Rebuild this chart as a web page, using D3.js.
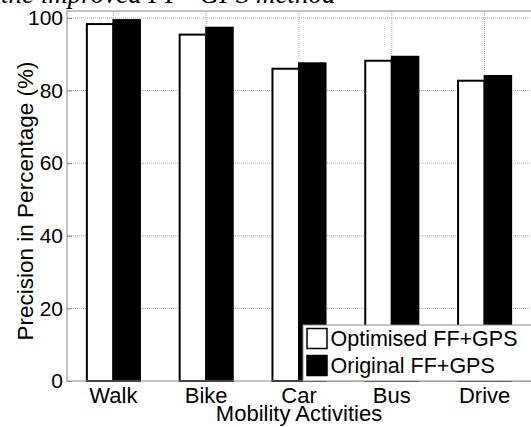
<!DOCTYPE html>
<html lang="en">
<head>
<meta charset="utf-8">
<script src="https://d3js.org/d3.v7.min.js"></script>
<style>
  body { margin: 0; background: #fff; }
  text { font-family: Arial, "Liberation Sans", sans-serif; fill: #000; }
</style>
</head>
<body>
<script>
// data
var activities = ["Walk", "Bike", "Car", "Bus", "Drive"];
var optimised = [98.3, 95.4, 86.0, 88.2, 82.7];
var original = [99.4, 97.3, 87.5, 89.3, 84.0];
var seriesNames = ["Optimised FF+GPS", "Original FF+GPS"];
var yTicks = [0, 20, 40, 60, 80, 100];

var w = 531, h = 427;
var plotL = 67, plotR = 531, plotT = 11, plotB = 381;

var svg = d3.select("body").append("svg")
  .attr("width", w).attr("height", h);

var x = d3.scaleBand().domain(activities).range([plotL, plotR]).padding(0);
var inner = d3.scaleBand().domain([0, 1]).range([0, x.bandwidth() * 0.572]);
var y = d3.scaleLinear().domain([0, 101.9]).range([plotB, plotT]);

// title (cut at top)
svg.append("text")
  .attr("x", 1).attr("y", 3)
  .style("font-family", "'Liberation Serif', 'Times New Roman', serif")
  .style("font-style", "italic")
  .style("font-size", "27px")
  .text("the improved FF+GPS method");

// grid
var grid = svg.append("g");
grid.selectAll("line.h").data(yTicks.filter(function(d) { return d > 0; }))
  .enter().append("line")
  .attr("x1", plotL).attr("x2", plotR)
  .attr("y1", function(d) { return y(d); }).attr("y2", function(d) { return y(d); })
  .attr("stroke", "#aaa").attr("stroke-dasharray", "1,1");
grid.selectAll("line.v").data(activities)
  .enter().append("line")
  .attr("x1", function(d) { return x(d) + x.bandwidth() / 2; })
  .attr("x2", function(d) { return x(d) + x.bandwidth() / 2; })
  .attr("y1", plotT).attr("y2", plotB)
  .attr("stroke", "#aaa").attr("stroke-dasharray", "1,1");

// bars
var groups = svg.selectAll("g.grp").data(activities).enter().append("g")
  .attr("transform", function(d) {
    return "translate(" + (x(d) + x.bandwidth() / 2 - inner.range()[1] / 2) + ",0)";
  });
groups.selectAll("rect").data(function(d, i) { return [optimised[i], original[i]]; })
  .enter().append("rect")
  .attr("x", function(d, j) { return inner(j); })
  .attr("y", function(d) { return y(d); })
  .attr("width", inner.bandwidth())
  .attr("height", function(d) { return plotB - y(d); })
  .attr("fill", function(d, j) { return j === 0 ? "#fff" : "#000"; })
  .attr("stroke", "#000").attr("stroke-width", 2);

// axes box
svg.append("line").attr("x1", plotL).attr("x2", plotR).attr("y1", plotT).attr("y2", plotT)
  .attr("stroke", "#888");
svg.append("line").attr("x1", plotL).attr("x2", plotR).attr("y1", plotB).attr("y2", plotB)
  .attr("stroke", "#888");

var yAxis = d3.axisLeft(y).tickValues(yTicks).tickSize(-5).tickPadding(4);
var ya = svg.append("g").attr("transform", "translate(" + plotL + ",0)").call(yAxis);
ya.attr("font-family", null).attr("font-size", null);
ya.select(".domain").attr("stroke", "#888").attr("d", "M0," + plotT + "V" + plotB);
ya.selectAll(".tick line").attr("stroke", "#888");
ya.selectAll("text").style("font-size", "21px");

var xAxis = d3.axisBottom(x).tickSize(0).tickPadding(6);
var xa = svg.append("g").attr("transform", "translate(0," + plotB + ")").call(xAxis);
xa.attr("font-family", null).attr("font-size", null);
xa.select(".domain").remove();
xa.selectAll("text").style("font-size", "22px");

// axis labels
svg.append("text")
  .attr("transform", "translate(33,201) rotate(-90)")
  .attr("text-anchor", "middle")
  .style("font-size", "22.5px")
  .text("Precision in Percentage (%)");
svg.append("text")
  .attr("x", (plotL + plotR) / 2).attr("y", 421)
  .attr("text-anchor", "middle")
  .style("font-size", "22px")
  .text("Mobility Activities");

// legend
var lg = svg.append("g").attr("transform", "translate(303,325)");
lg.append("rect").attr("x", 0).attr("y", 0).attr("width", 240).attr("height", 56)
  .attr("fill", "#fff").attr("stroke", "#888");
seriesNames.forEach(function(name, i) {
  lg.append("rect")
    .attr("x", 4).attr("y", 3.5 + i * 27).attr("width", 20).attr("height", 20)
    .attr("fill", i === 0 ? "#fff" : "#000").attr("stroke", "#000").attr("stroke-width", 1.5);
  lg.append("text")
    .attr("x", 27.5).attr("y", 20.5 + i * 27.5)
    .style("font-size", "21.5px")
    .text(name);
});
</script>
</body>
</html>
